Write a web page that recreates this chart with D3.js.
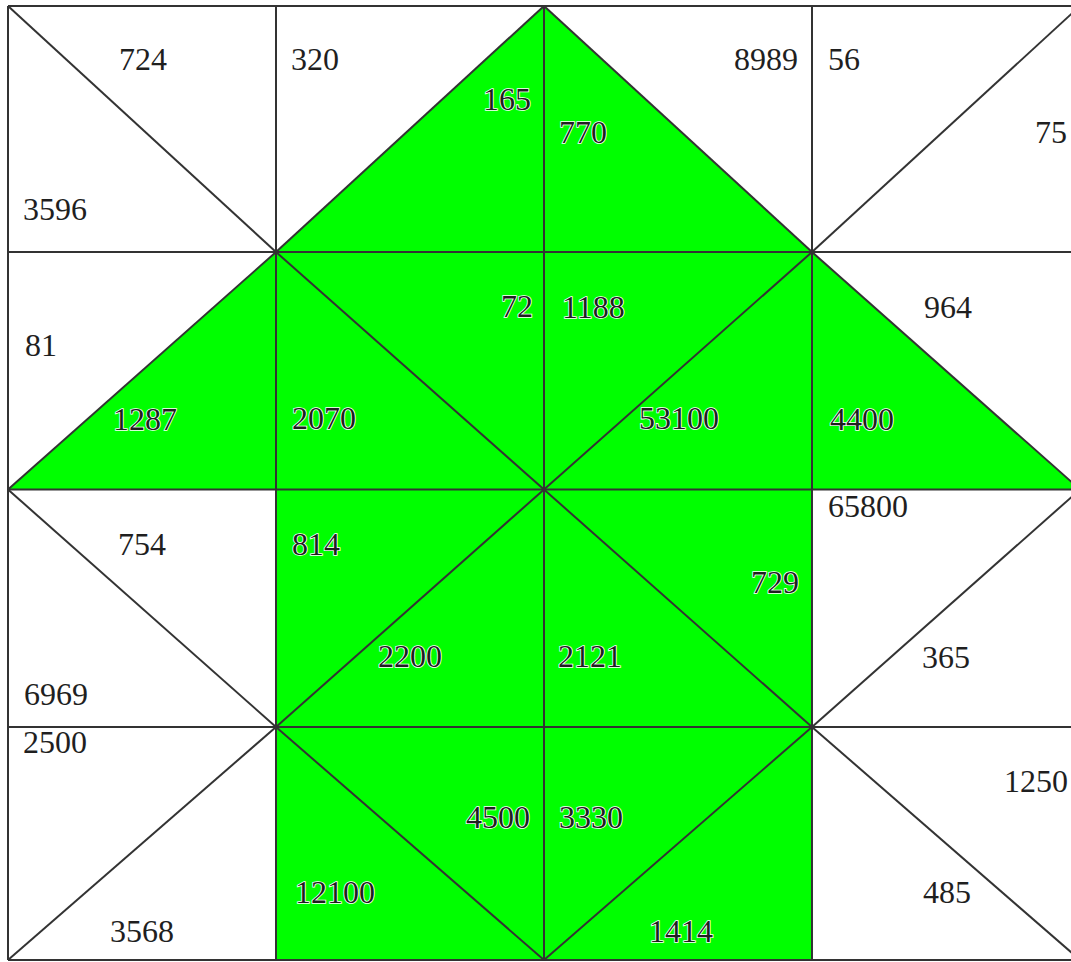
<!DOCTYPE html>
<html>
<head>
<meta charset="utf-8">
<script src="https://cdn.jsdelivr.net/npm/d3@7"></script>
<style>
  html, body { margin: 0; padding: 0; background: #fff; }
  svg { display: block; }
</style>
</head>
<body>
<script>
// ---------- DATA ----------
const rows = [0, 1, 2, 3];
const cols = [0, 1, 2, 3];
// diagonal direction per cell: "down" = top-left to bottom-right, "up" = bottom-left to top-right
const diagonals = [
  ["down", "up", "down", "up"],
  ["up", "down", "up", "down"],
  ["down", "up", "down", "up"],
  ["up", "down", "up", "down"]
];
// value in the upper triangle of each cell
const upperValues = [
  [724, 320, 8989, 56],
  [81, 72, 1188, 964],
  [754, 814, 729, 65800],
  [2500, 4500, 3330, 1250]
];
// value in the lower triangle of each cell
const lowerValues = [
  [3596, 165, 770, 75],
  [1287, 2070, 53100, 4400],
  [6969, 2200, 2121, 365],
  [3568, 12100, 1414, 485]
];
// highlighted (green) triangles
const upperHighlighted = [
  [false, false, false, false],
  [false, true, true, false],
  [false, true, true, false],
  [false, true, true, false]
];
const lowerHighlighted = [
  [false, true, true, false],
  [true, true, true, true],
  [false, true, true, false],
  [false, true, true, false]
];

// ---------- LAYOUT (label anchors relative to the cell's top-left, in px) ----------
const upperLabelOffset = [
  [[111, 64], [15, 64], [190, 64], [16, 64]],
  [[17, 104], [225, 65], [18, 66], [112, 66]],
  [[110, 65], [16, 65], [207, 103], [16, 27]],
  [[15, 26], [190, 101], [15, 101], [192, 65]]
];
const lowerLabelOffset = [
  [[15, 214], [207, 104], [15, 137], [223, 137]],
  [[105, 178], [16, 177], [95, 177], [18, 178]],
  [[16, 215], [102, 177], [14, 177], [110, 178]],
  [[102, 215], [19, 176], [105, 215], [111, 176]]
];

const W = 1071, H = 962;
const GREEN = "#00ff00";
const LINE = "#333333";

const x = d3.scaleLinear().domain([0, 4]).range([8, 1080]);
const y = d3.scaleLinear().domain([0, 1, 2, 3, 4]).range([6, 252, 489.5, 727, 960]);

const svg = d3.select("body").append("svg")
  .attr("width", W).attr("height", H)
  .attr("viewBox", `0 0 ${W} ${H}`);

svg.append("rect").attr("width", W).attr("height", H).attr("fill", "#fff");

// Build triangles
const tris = [];
rows.forEach(r => cols.forEach(c => {
  const x0 = x(c), x1 = x(c + 1), y0 = y(r), y1 = y(r + 1);
  const TL = [x0, y0], TR = [x1, y0], BL = [x0, y1], BR = [x1, y1];
  let upper, lower;
  if (diagonals[r][c] === "down") { upper = [TL, TR, BR]; lower = [TL, BL, BR]; }
  else { upper = [TL, TR, BL]; lower = [BL, TR, BR]; }
  tris.push({ r, c, pts: upper, value: upperValues[r][c], hl: upperHighlighted[r][c], off: upperLabelOffset[r][c], x0, y0 });
  tris.push({ r, c, pts: lower, value: lowerValues[r][c], hl: lowerHighlighted[r][c], off: lowerLabelOffset[r][c], x0, y0 });
}));

// Fills
svg.append("g").selectAll("polygon").data(tris).join("polygon")
  .attr("points", d => d.pts.map(p => p.join(",")).join(" "))
  .attr("fill", d => d.hl ? GREEN : "#fff")
  .attr("stroke", "none");

// Grid lines
const g = svg.append("g").attr("stroke", LINE).attr("stroke-width", 2).attr("fill", "none");
d3.range(0, 5).forEach(i => {
  g.append("line").attr("x1", x(0)).attr("x2", x(4)).attr("y1", y(i)).attr("y2", y(i));
  g.append("line").attr("y1", y(0)).attr("y2", y(4)).attr("x1", x(i)).attr("x2", x(i));
});
// Diagonals
rows.forEach(r => cols.forEach(c => {
  const down = diagonals[r][c] === "down";
  g.append("line")
    .attr("x1", x(c)).attr("y1", down ? y(r) : y(r + 1))
    .attr("x2", x(c + 1)).attr("y2", down ? y(r + 1) : y(r));
}));

// Labels
svg.append("g").selectAll("text").data(tris).join("text")
  .attr("x", d => d.x0 + d.off[0])
  .attr("y", d => d.y0 + d.off[1])
  .attr("font-family", "'Liberation Serif', 'Times New Roman', serif")
  .attr("font-size", 32)
  .attr("fill", "#1f1f1f")
  .attr("stroke", d => d.hl ? "#ffffff" : "none")
  .attr("stroke-width", d => d.hl ? 1.6 : 0)
  .attr("paint-order", "stroke")
  .text(d => d.value);
</script>
</body>
</html>
